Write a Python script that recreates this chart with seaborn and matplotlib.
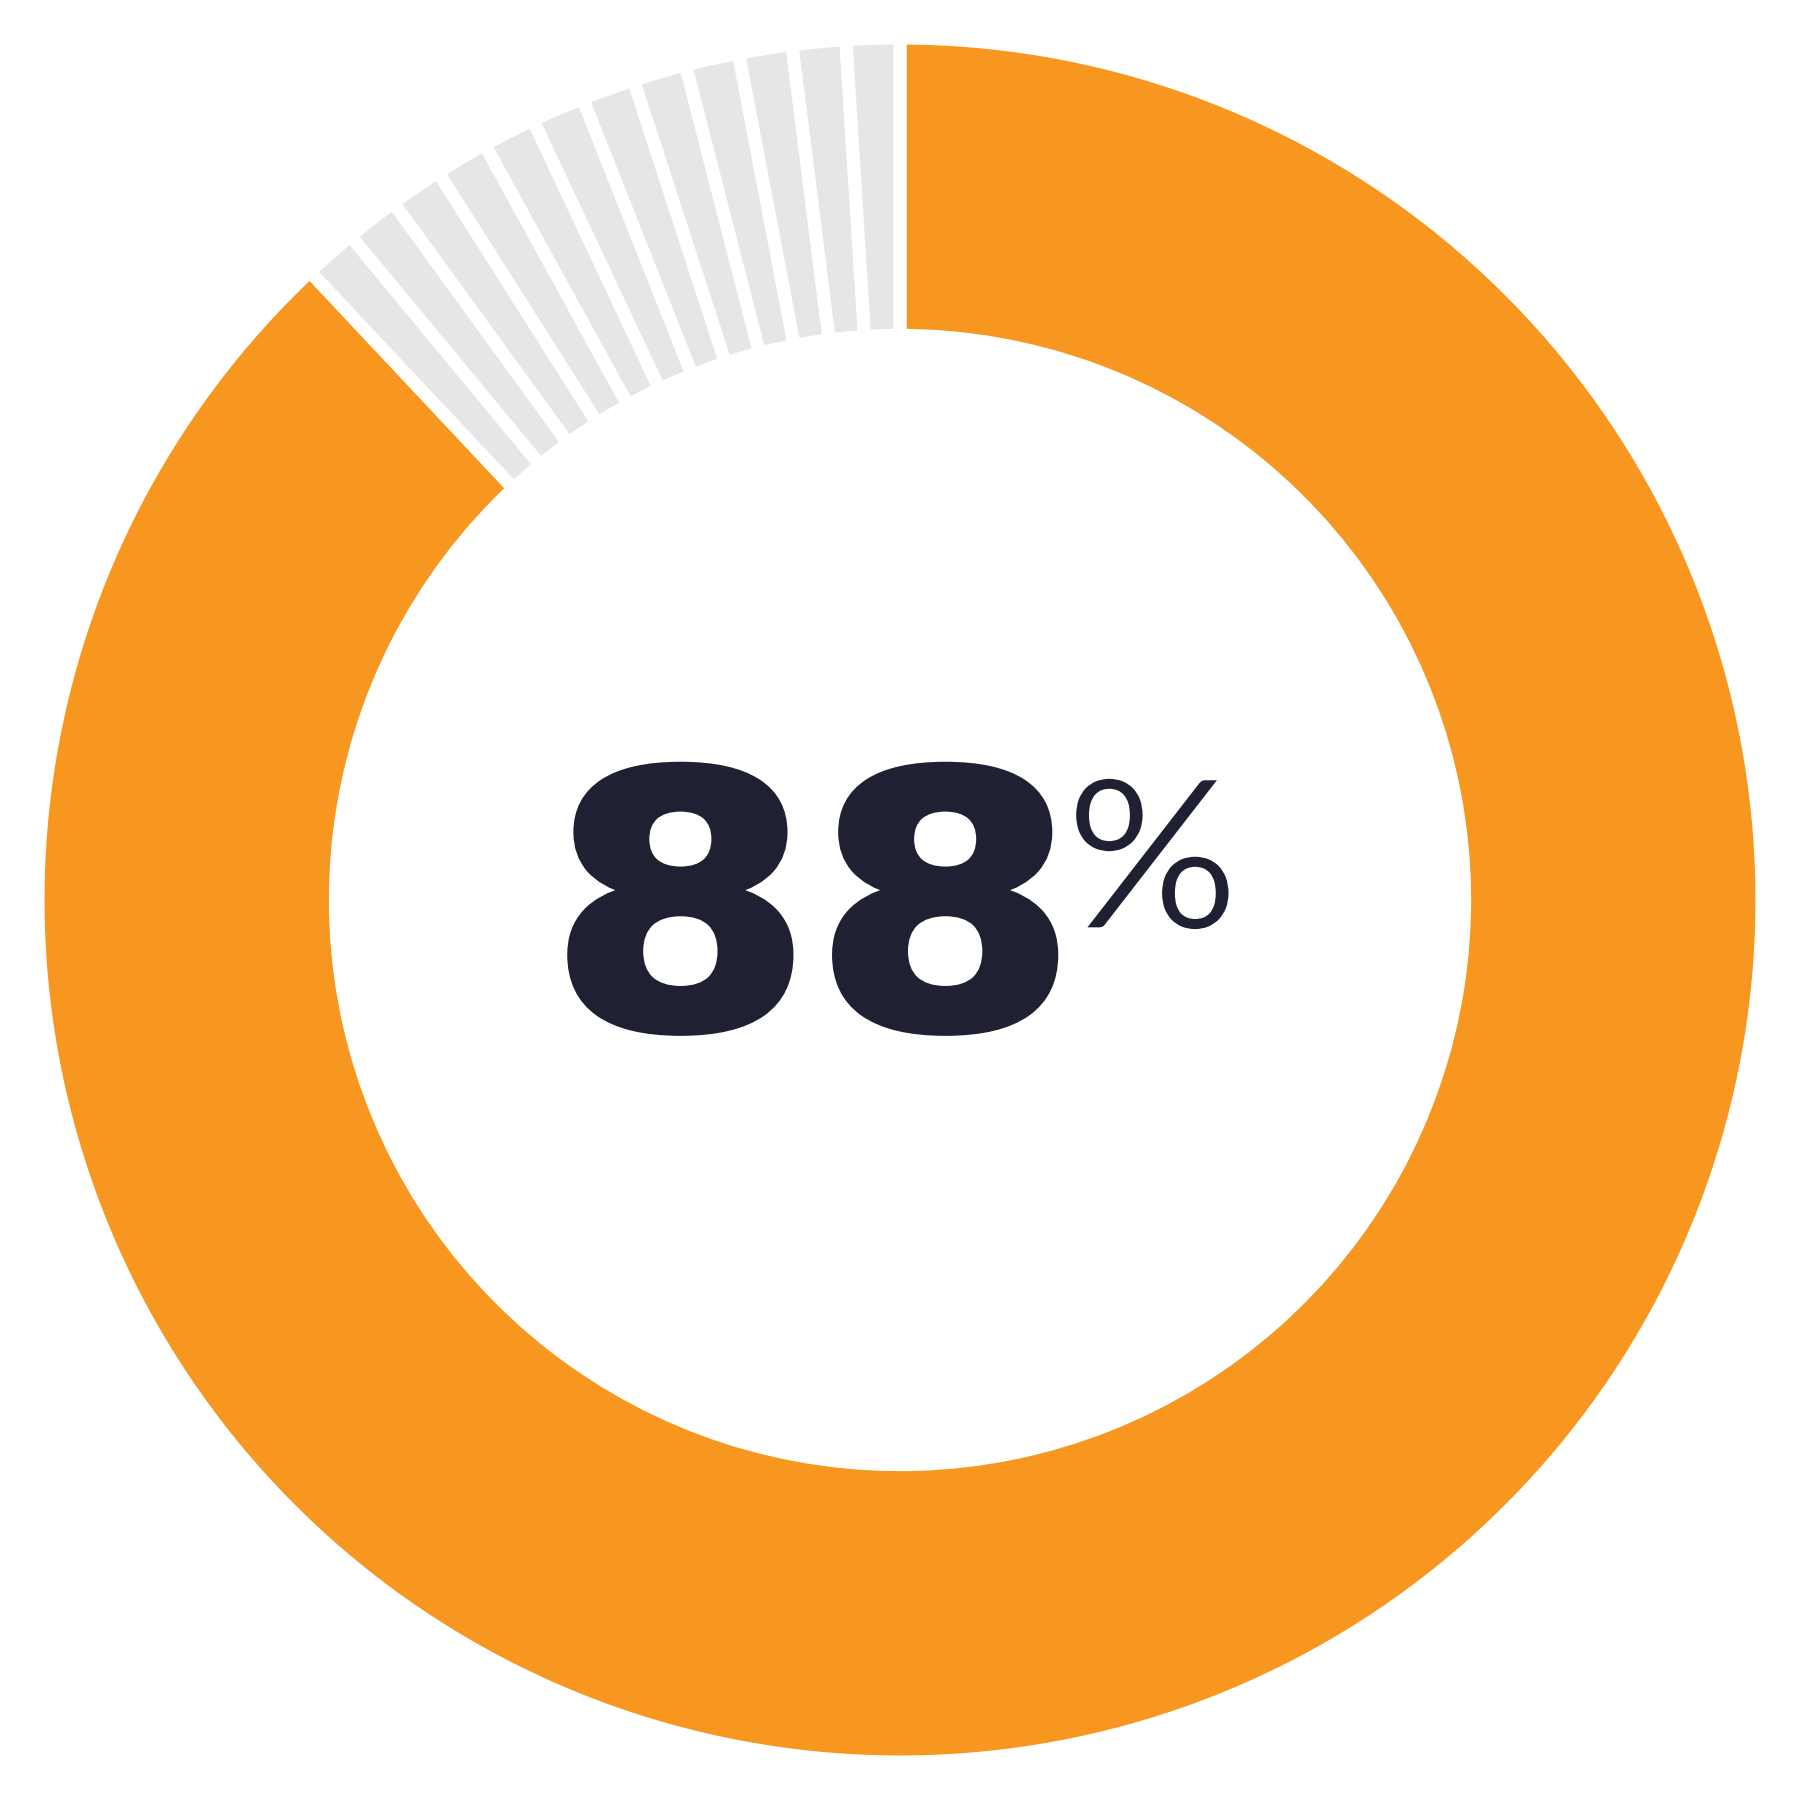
import matplotlib
matplotlib.use("Agg")
import matplotlib.pyplot as plt
import matplotlib.patheffects as pe
from matplotlib.transforms import Affine2D
import seaborn as sns

sns.set_theme(style="white")
plt.rcParams['font.family'] = ['DejaVu Sans']

# Data
share_value = 88
remaining_segments = [1] * 12
segment_values = [share_value] + remaining_segments
segment_colors = ["#F7971F"] + ["#E6E6E6"] * len(remaining_segments)
main_label = "88"
unit_label = "%"
text_color = "#1F2032"


class StretchStroke(pe.AbstractPathEffect):
    """Draw text path stretched horizontally about cx, with an optional edge stroke."""
    def __init__(self, sx, cx, lw=0.0, color=None):
        super().__init__()
        self.sx, self.cx, self.lw, self.color = sx, cx, lw, color

    def draw_path(self, renderer, gc, tpath, affine, rgbFace=None):
        aff = affine + Affine2D().translate(-self.cx, 0).scale(self.sx, 1).translate(self.cx, 0)
        gc0 = renderer.new_gc()
        gc0.copy_properties(gc)
        if self.lw > 0:
            gc0.set_linewidth(self.lw)
            gc0.set_foreground(self.color)
            gc0.set_joinstyle("round")
        else:
            gc0.set_linewidth(0)
        renderer.draw_path(gc0, tpath, aff, rgbFace)
        gc0.restore()


fig = plt.figure(figsize=(18, 18), dpi=100)
ax = fig.add_axes([0, 0, 1, 1])

ax.pie(segment_values, colors=segment_colors, startangle=90, counterclock=False,
       radius=1.0,
       wedgeprops=dict(width=0.345, edgecolor="white", linewidth=9.4))

lim = 900 / 862
ax.set_xlim(-lim, lim)
ax.set_ylim(-lim, lim)
ax.set_aspect("equal")
ax.axis("off")

x88 = -0.101
cx88 = ax.transData.transform((x88, 0))[0]
ax.text(x88, -0.147, main_label, ha="center", va="baseline",
        fontsize=253, fontweight="bold", color=text_color,
        path_effects=[StretchStroke(1.083, cx88, lw=6, color=text_color)])

xpct = 0.192
cxp = ax.transData.transform((xpct, 0))[0]
ax.text(xpct, -0.033, unit_label, ha="left", va="baseline",
        fontfamily="Lato", fontsize=150, fontweight="normal", color=text_color,
        path_effects=[StretchStroke(1.04, cxp, lw=1.6, color="white")])

fig.savefig("out.png", dpi=100, facecolor="white")
